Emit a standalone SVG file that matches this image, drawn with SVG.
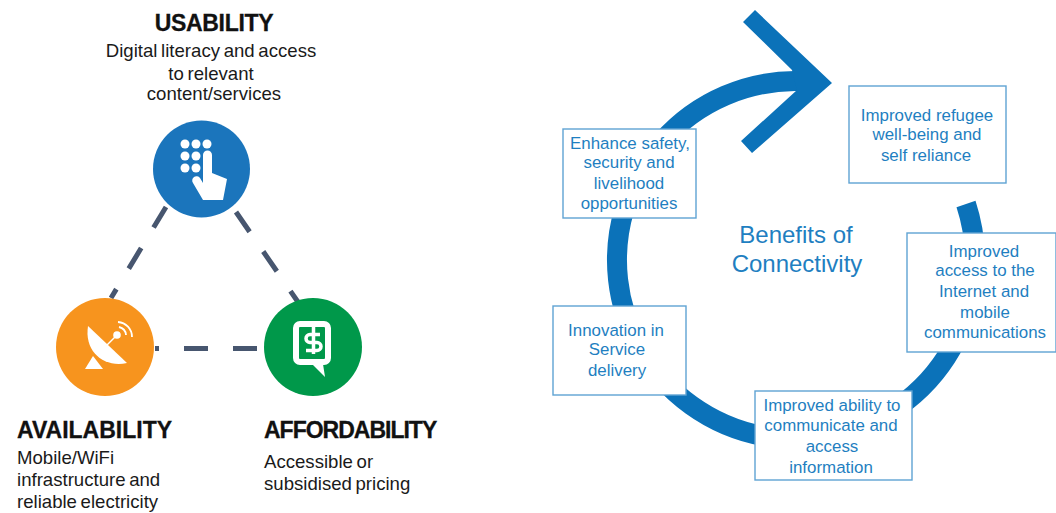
<svg xmlns="http://www.w3.org/2000/svg" width="1056" height="513" viewBox="0 0 1056 513">
<style>
text{font-family:"Liberation Sans",Arial,sans-serif}
.h{font-size:23px;font-weight:700;fill:#111;stroke:#111;stroke-width:.3px}
.t{font-size:18.600px;fill:#1a1a1a;word-spacing:-1.500px}
.b{font-size:16.900px;fill:#1f7fc1;text-anchor:middle}
.box{fill:#fff;stroke:#5fa3d3;stroke-width:1.400}
.w{fill:#fff}
.dash{stroke:#47566f;stroke-width:5;fill:none}
</style>
<rect width="1056" height="513" fill="#fff"/>
<g id="connectors">
<path class="dash" d="M166 207L111 298M236 212L298 302" stroke-dasharray="24 24"/>
<path class="dash" d="M257 348.500H155" stroke-dasharray="24 25"/>
</g>
<g id="usability">
<text class="h" x="214" y="31" text-anchor="middle" letter-spacing="-.3">USABILITY</text>
<text class="t" x="211" y="57" text-anchor="middle">Digital literacy and access</text>
<text class="t" x="211" y="80" text-anchor="middle">to relevant</text>
<text class="t" x="214" y="100" text-anchor="middle">content/services</text>
<circle cx="201.500" cy="169" r="48.500" fill="#1b75bc"/>
<g class="w">
<circle cx="185" cy="144" r="4.500"/><circle cx="196" cy="144" r="4.500"/><circle cx="207" cy="144" r="4.500"/>
<circle cx="185" cy="156" r="4.500"/><circle cx="196" cy="156" r="4.500"/>
<circle cx="185" cy="168" r="4.500"/><circle cx="196" cy="168" r="4.500"/>
<path d="M203 155a4.500 4.500 0 0 1 9 0V173L227 179L223 200H203L193 183a4 4 0 0 1 7-5L203 183Z"/>
</g>
</g>
<g id="availability">
<circle cx="105" cy="347" r="49" fill="#f7941e"/>
<g class="w">
<path d="M88 326L127 363C104 368 84 352 88 326Z"/>
<path d="M93 356L85 369H103Z"/>
<path d="M106 346L115 337" stroke="#fff" stroke-width="1.500"/>
<circle cx="117" cy="335" r="3.800"/>
<path d="M119 327a9 9 0 0 1 7 8M118 322a15 15 0 0 1 14 15" fill="none" stroke="#fff" stroke-width="1.800"/>
</g>
</g>
<g id="affordability">
<circle cx="313" cy="347" r="49" fill="#00984a"/>
<rect x="296" y="324" width="32" height="38" rx="4" fill="none" stroke="#fff" stroke-width="6"/>
<path class="w" d="M312 364L325 377L323 364Z"/>
<path d="M320 334.500H310a4 4 0 0 0 0 8h7a4 4 0 0 1 0 8H306M313.500 327V354" fill="none" stroke="#fff" stroke-width="3.500"/>
</g>
<g id="labels-left">
<text class="h" x="17" y="438">AVAILABILITY</text>
<text class="t" x="17" y="464">Mobile/WiFi</text>
<text class="t" x="17" y="486">infrastructure and</text>
<text class="t" x="17" y="508">reliable electricity</text>
<text class="h" x="264" y="438" letter-spacing="-1">AFFORDABILITY</text>
<text class="t" x="264" y="468">Accessible or</text>
<text class="t" x="264" y="490">subsidised pricing</text>
</g>
<g id="cycle">
<path d="M966 204A179 179 0 1 1 795 81H810" fill="none" stroke="#0b72b9" stroke-width="20"/>
<polygon points="755,10 832,83 752,153 741,141 797,90 792,70 743,22" fill="#0b72b9"/>
</g>
<g id="n1"><rect class="box" x="849" y="86" width="157" height="97"/>
<text class="b" x="927" y="121">Improved refugee</text><text class="b" x="927" y="140">well-being and</text><text class="b" x="926" y="161">self reliance</text></g>
<g id="n2"><rect class="box" x="907" y="233" width="149" height="119"/>
<text class="b" x="984" y="257">Improved</text><text class="b" x="985" y="276">access to the</text><text class="b" x="984" y="297">Internet and</text><text class="b" x="985" y="318">mobile</text><text class="b" x="985" y="338">communications</text></g>
<g id="n3"><rect class="box" x="755" y="391" width="157" height="89"/>
<text class="b" x="832" y="411">Improved ability to</text><text class="b" x="831" y="431">communicate and</text><text class="b" x="832" y="452">access</text><text class="b" x="831" y="473">information</text></g>
<g id="n4"><rect class="box" x="553" y="306" width="133" height="89"/>
<text class="b" x="616" y="336">Innovation in</text><text class="b" x="617" y="355">Service</text><text class="b" x="617" y="376">delivery</text></g>
<g id="n5"><rect class="box" x="563" y="129" width="133" height="89"/>
<text class="b" x="630" y="149">Enhance safety,</text><text class="b" x="629" y="168">security and</text><text class="b" x="629" y="189">livelihood</text><text class="b" x="629" y="209">opportunities</text></g>
<g id="center"><text x="796" y="243" font-size="24" fill="#1f7fc1" text-anchor="middle">Benefits of</text><text x="797" y="272" font-size="24" fill="#1f7fc1" text-anchor="middle">Connectivity</text></g>
</svg>
